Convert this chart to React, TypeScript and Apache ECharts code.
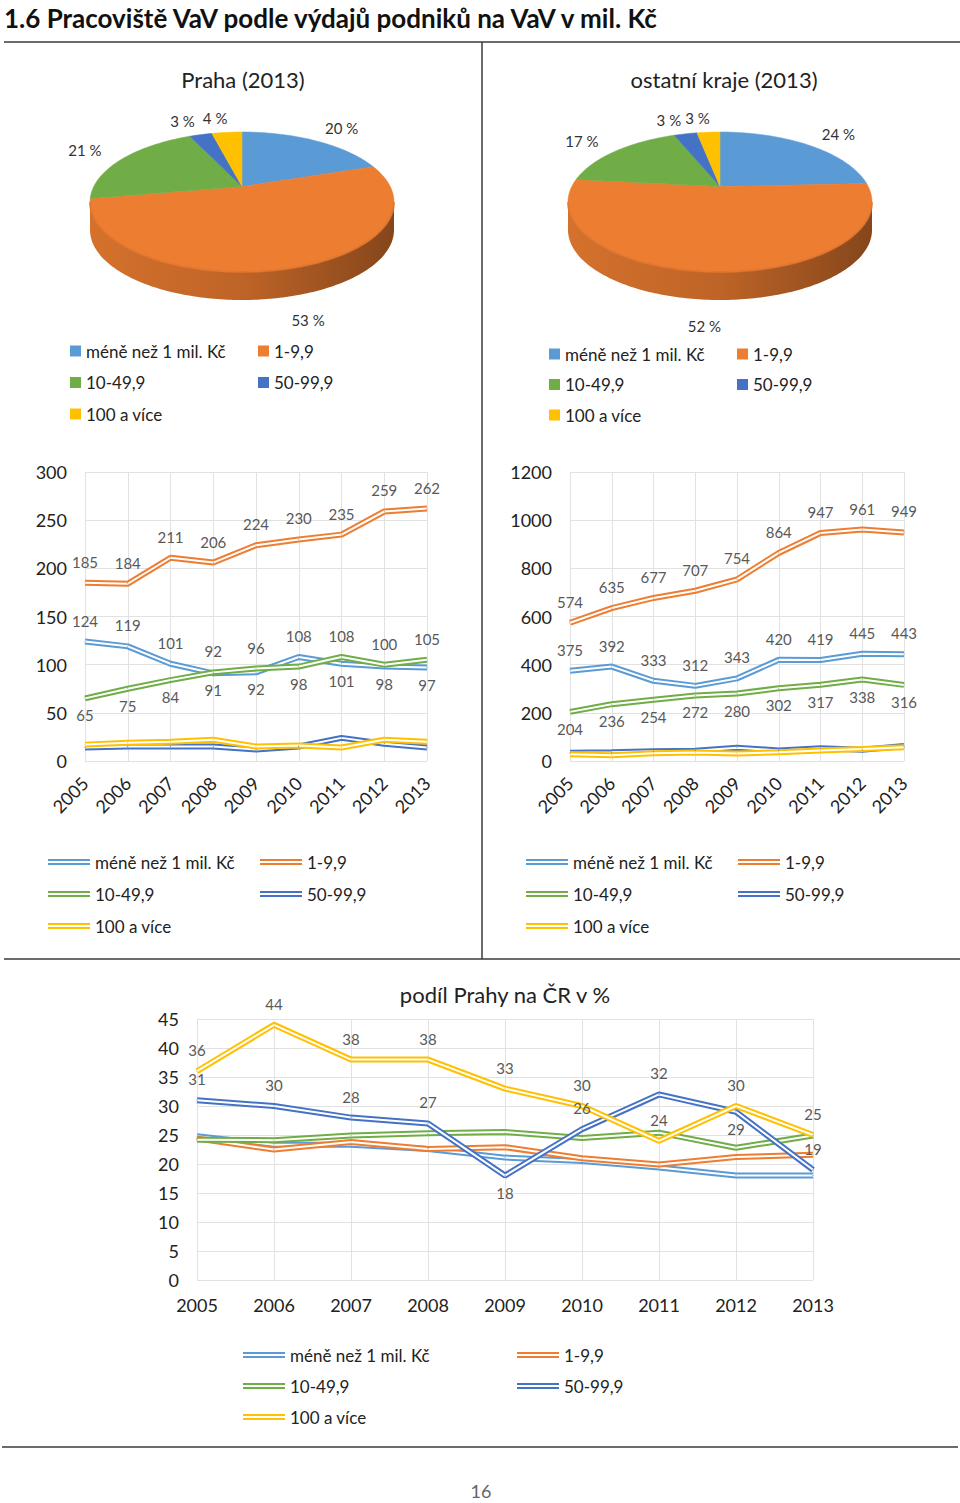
import React, { useEffect, useRef } from 'react';
import * as echarts from 'echarts';

const FONT = 'Lato, "Noto Sans", sans-serif';

const years = ['2005', '2006', '2007', '2008', '2009', '2010', '2011', '2012', '2013'];
const categories = ['méně než 1 mil. Kč', '1-9,9', '10-49,9', '50-99,9', '100 a více'];
const palette = ['#5B9BD5', '#ED7D31', '#70AD47', '#4472C4', '#FFC000'];

// Pie shares in 2013 (%)
const prahaPieShares = [20, 53, 21, 3, 4];
const ostatniPieShares = [24, 52, 17, 3, 3];

// Praha, absolute counts
const prahaMene = [124, 119, 101, 91, 92, 108, 101, 98, 97];
const praha1to10 = [185, 184, 211, 206, 224, 230, 235, 259, 262];
const praha10to50 = [65, 75, 84, 92, 96, 98, 108, 100, 105];
const praha50to100 = [14, 15, 15, 15, 12, 15, 24, 18, 14];
const praha100plus = [17, 19, 20, 22, 15, 16, 14, 22, 20];

// ostatní kraje, absolute counts
const ostatniMene = [375, 392, 333, 312, 343, 420, 419, 445, 443];
const ostatni1to10 = [574, 635, 677, 707, 754, 864, 947, 961, 949];
const ostatni10to50 = [204, 236, 254, 272, 280, 302, 317, 338, 316];
const ostatni50to100 = [34, 36, 40, 43, 55, 44, 53, 47, 62];
const ostatni100plus = [28, 24, 32, 35, 31, 36, 44, 50, 57];

// podíl Prahy na ČR v %
const podilMene = [24.8, 23.3, 23.3, 22.6, 21.1, 20.5, 19.4, 18.0, 18.0];
const podil1to10 = [24.4, 22.5, 23.8, 22.6, 22.9, 21.0, 19.9, 21.2, 21.6];
const podil10to50 = [24.2, 24.1, 24.9, 25.3, 25.5, 24.5, 25.4, 22.8, 24.9];
const podil50to100 = [31, 30, 28, 27, 18, 26, 32, 29, 19];
const podil100plus = [36, 44, 38, 38, 33, 30, 24, 30, 25];

// label placement (styling, kept apart from values)
const T = 'top';
const B = 'bottom';
const prahaLabelPos: (string[] | null)[] = [
  [T, T, T, B, B, T, B, B, B],
  [T, T, T, T, T, T, T, T, T],
  [B, B, B, T, T, B, T, T, T],
  null,
  null,
];
const ostatniLabelPos: (string[] | null)[] = [
  [T, T, T, T, T, T, T, T, T],
  [T, T, T, T, T, T, T, T, T],
  [B, B, B, B, B, B, B, B, B],
  null,
  null,
];
const podilLabelPos: (string[] | null)[] = [
  null,
  null,
  null,
  [T, T, T, T, B, T, T, B, T],
  [T, T, T, T, T, T, T, T, T],
];

type Geo = { cx: number; cy: number; rx: number; ry: number; a: number; thick: number };
const geoPraha: Geo = { cx: 242, cy: 202, rx: 152, ry: 70, a: -0.22, thick: 28 };
const geoOstatni: Geo = { cx: 720, cy: 202, rx: 152, ry: 70, a: -0.22, thick: 28 };

function shade(hex: string, f: number) {
  const n = parseInt(hex.slice(1), 16);
  const r = Math.min(255, Math.round(((n >> 16) & 255) * f));
  const g = Math.min(255, Math.round(((n >> 8) & 255) * f));
  const b = Math.min(255, Math.round((n & 255) * f));
  return `rgb(${r},${g},${b})`;
}

function unitProj(geo: Geo, deg: number) {
  const r = (deg * Math.PI) / 180;
  const u = Math.sin(r);
  const v = -Math.cos(r);
  const d = 1 + geo.a * v;
  return [(u * Math.sqrt(1 - geo.a * geo.a)) / d, (v + geo.a) / d];
}
function proj(geo: Geo, deg: number, dy: number) {
  const [X, Y] = unitProj(geo, deg);
  return [geo.cx + geo.rx * X, geo.cy + geo.ry * Y + dy];
}
function arcPts(geo: Geo, t1: number, t2: number, dy: number) {
  const n = Math.max(2, Math.ceil(t2 - t1));
  const pts: number[][] = [];
  for (let k = 0; k <= n; k++) pts.push(proj(geo, t1 + ((t2 - t1) * k) / n, dy));
  return pts;
}

function pieSeries(values: number[], geo: Geo) {
  const total = values.reduce((s, v) => s + v, 0);
  const front1 = (Math.acos(geo.a) * 180) / Math.PI;
  const front2 = 360 - front1;
  return values.map((val, i) => ({
    type: 'custom',
    name: categories[i],
    coordinateSystem: 'none',
    silent: true,
    itemStyle: { color: palette[i] },
    data: [val],
    renderItem: (_params: any, api: any) => {
      const before = values.slice(0, i).reduce((s, v) => s + v, 0);
      const v = api.value(0);
      const t1 = (before / total) * 360;
      const t2 = ((before + v) / total) * 360;
      const color = palette[i];
      const children: any[] = [];
      const s = Math.max(t1, front1);
      const e = Math.min(t2, front2);
      if (e > s) {
        const side = arcPts(geo, s, e, 0).concat(arcPts(geo, s, e, geo.thick).reverse());
        children.push({
          type: 'polygon',
          z2: 0,
          shape: { points: side },
          style: {
            fill: {
              type: 'linear',
              x: geo.cx - geo.rx,
              y: 0,
              x2: geo.cx + geo.rx,
              y2: 0,
              global: true,
              colorStops: [
                { offset: 0, color: shade(color, 0.9) },
                { offset: 0.5, color: shade(color, 0.8) },
                { offset: 1, color: shade(color, 0.56) },
              ],
            },
            stroke: null,
          },
        });
        children.push({
          type: 'polyline',
          z2: 11,
          shape: { points: arcPts(geo, s, e, 0) },
          style: { stroke: shade(color, 0.93), lineWidth: 2, fill: null, opacity: 0.7 },
        });
      }
      const top = [[geo.cx, geo.cy + geo.ry * geo.a]].concat(arcPts(geo, t1, t2, 0));
      children.push({
        type: 'polygon',
        z2: 10,
        shape: { points: top },
        style: { fill: color, stroke: color, lineWidth: 0.5 },
      });
      const [X, Y] = unitProj(geo, (t1 + t2) / 2);
      const lx = geo.cx + X * geo.rx * 1.25 + Math.sign(Math.round(X * 20)) * 8;
      const ly = geo.cy + Y * geo.ry * 1.2 + Math.max(0, Y) * (geo.thick + 12);
      children.push({
        type: 'text',
        z2: 20,
        x: lx,
        y: ly,
        style: {
          text: `${v} %`,
          fill: '#333',
          fontSize: 15,
          fontFamily: FONT,
          align: 'center',
          verticalAlign: 'middle',
          textAlign: 'center',
          textVerticalAlign: 'middle',
        },
      });
      return { type: 'group', children };
    },
  }));
}

function lineSet(gridIndex: number, arrays: number[][], labelPos: (string[] | null)[]) {
  const out: any[] = [];
  arrays.forEach((arr, k) => {
    const pos = labelPos[k];
    out.push({
      type: 'line',
      name: categories[k],
      xAxisIndex: gridIndex,
      yAxisIndex: gridIndex,
      data: arr.map((v, j) =>
        pos ? { value: v, label: { position: pos[j], distance: pos[j] === 'top' ? 13 : 9 } } : v
      ),
      symbol: 'circle',
      symbolSize: 1,
      showSymbol: true,
      showAllSymbol: true,
      lineStyle: { color: palette[k], width: 6 },
      itemStyle: { color: palette[k] },
      label: { show: !!pos, color: '#595959', fontSize: 15, fontFamily: FONT },
      silent: true,
      emphasis: { disabled: true },
    });
    out.push({
      type: 'line',
      name: categories[k] + ' (vnitřní)',
      xAxisIndex: gridIndex,
      yAxisIndex: gridIndex,
      data: arr,
      symbol: 'none',
      lineStyle: { color: '#ffffff', width: 2 },
      silent: true,
      emphasis: { disabled: true },
    });
  });
  return out;
}

const axisText = { color: '#222', fontSize: 18, fontFamily: FONT };
const gridLine = { show: true, lineStyle: { color: '#e2e2e2', width: 1 } };

function xAxis(gridIndex: number, rotate: number, margin: number) {
  return {
    type: 'category',
    gridIndex,
    data: years,
    boundaryGap: false,
    axisLine: { show: false },
    axisTick: { show: false },
    splitLine: gridLine,
    axisLabel: { ...axisText, rotate, margin, interval: 0 },
  };
}
function yAxis(gridIndex: number, max: number, interval: number) {
  return {
    type: 'value',
    gridIndex,
    min: 0,
    max,
    interval,
    axisLine: { show: false },
    axisTick: { show: false },
    splitLine: gridLine,
    axisLabel: { ...axisText, margin: 18, formatter: (v: number) => String(v) },
  };
}

const lineIcon = 'path://M0,0L42,0L42,2L0,2Z M0,4L42,4L42,6L0,6Z';
function legendCol(names: string[], left: number, top: number, gap: number, line: boolean) {
  return {
    orient: 'vertical',
    left,
    top,
    padding: 0,
    data: names,
    selectedMode: false,
    icon: line ? lineIcon : 'rect',
    itemWidth: line ? 42 : 11,
    itemHeight: line ? 6 : 11,
    itemGap: gap,
    textStyle: { color: '#222', fontSize: 17, fontFamily: FONT, lineHeight: 20 },
  };
}
const col1 = [categories[0], categories[2], categories[4]];
const col2 = [categories[1], categories[3]];

function text(x: number, y: number, str: string, size: number, color: string, weight = 'normal', align = 'center') {
  return {
    type: 'text',
    x,
    y,
    style: {
      text: str,
      fill: color,
      fontSize: size,
      fontWeight: weight,
      fontFamily: FONT,
      align,
      verticalAlign: 'middle',
      textAlign: align,
      textVerticalAlign: 'middle',
    },
  };
}
function hline(x1: number, y1: number, x2: number, y2: number) {
  return { type: 'line', shape: { x1, y1, x2, y2 }, style: { stroke: '#3a3a3a', lineWidth: 1.5 } };
}

function buildOption(): any {
  return {
    animation: false,
    backgroundColor: '#ffffff',
    grid: [
      { left: 85, right: 960 - 427, top: 472, height: 289, outerBoundsMode: 'none' },
      { left: 570, right: 960 - 904, top: 472, height: 289, outerBoundsMode: 'none' },
      { left: 197, right: 960 - 813, top: 1019, height: 261, outerBoundsMode: 'none' },
    ],
    xAxis: [xAxis(0, 45, 19), xAxis(1, 45, 19), xAxis(2, 0, 16)],
    yAxis: [yAxis(0, 300, 50), yAxis(1, 1200, 200), yAxis(2, 45, 5)],
    legend: [
      legendCol(col1, 70, 341, 11.5, false),
      legendCol(col2, 258, 341, 11.5, false),
      legendCol(col1, 549, 344, 10.5, false),
      legendCol(col2, 737, 344, 10.5, false),
      legendCol(col1, 48, 852, 12, true),
      legendCol(col2, 260, 852, 12, true),
      legendCol(col1, 526, 852, 12, true),
      legendCol(col2, 738, 852, 12, true),
      legendCol(col1, 243, 1345, 11, true),
      legendCol(col2, 517, 1345, 11, true),
    ],
    graphic: [
      text(4, 18, '1.6 Pracoviště VaV podle výdajů podniků na VaV v mil. Kč', 26, '#111', 'bold', 'left'),
      hline(4, 42, 960, 42),
      hline(482, 42, 482, 959),
      hline(4, 959, 960, 959),
      hline(2, 1447, 958, 1447),
      text(243, 79, 'Praha (2013)', 22, '#222'),
      text(724, 79, 'ostatní kraje (2013)', 22, '#222'),
      text(505, 994, 'podíl Prahy na ČR v %', 22, '#222'),
      text(481, 1491, '16', 18, '#666'),
    ],
    series: [
      ...pieSeries(prahaPieShares, geoPraha),
      ...pieSeries(ostatniPieShares, geoOstatni),
      ...lineSet(0, [prahaMene, praha1to10, praha10to50, praha50to100, praha100plus], prahaLabelPos),
      ...lineSet(1, [ostatniMene, ostatni1to10, ostatni10to50, ostatni50to100, ostatni100plus], ostatniLabelPos),
      ...lineSet(2, [podilMene, podil1to10, podil10to50, podil50to100, podil100plus], podilLabelPos),
    ],
  };
}

export default function App() {
  const ref = useRef<HTMLDivElement>(null);
  useEffect(() => {
    if (!ref.current) return;
    const chart = echarts.init(ref.current, null, { renderer: 'svg' });
    chart.setOption(buildOption());
    return () => chart.dispose();
  }, []);
  return (
    <div
      ref={ref}
      style={{ position: 'absolute', left: 0, top: 0, width: 960, height: 1503, background: '#fff' }}
    />
  );
}
